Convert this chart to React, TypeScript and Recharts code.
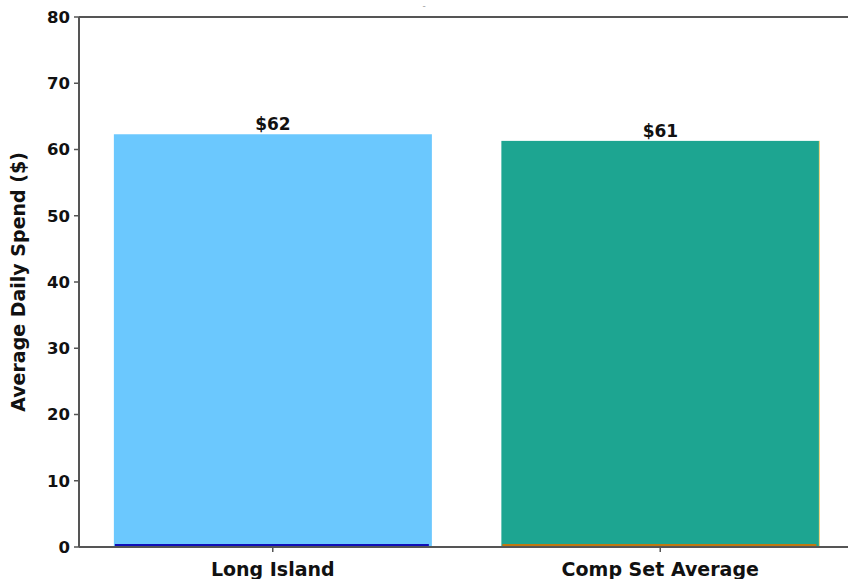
import { Bar, BarChart, LabelList, ReferenceLine, XAxis, YAxis } from "recharts";

const categories = ["Long Island", "Comp Set Average"];
const spend = [62.3, 61.3];
const valueLabels = ["$62", "$61"];
const yTicks = [0, 10, 20, 30, 40, 50, 60, 70, 80];

const barColors = ["#6BC8FE", "#1DA591"];
const edgeColors = ["#1010B8", "#C07812"];
const sideColors = ["none", "#F7D27A"];

const font = "'DejaVu Sans', sans-serif";
const spine = "#555";

const data = categories.map((name, i) => ({
  name,
  spend: spend[i],
  label: valueLabels[i],
  fill: barColors[i],
  edge: edgeColors[i],
  side: sideColors[i],
}));

function EdgedBar(props: any) {
  const { x, y, width, height, payload } = props;
  return (
    <g>
      <rect x={x} y={y} width={width} height={height} fill={payload.fill} />
      <line x1={x + 1} x2={x + width - 3} y1={y + height - 2} y2={y + height - 2} stroke={payload.edge} strokeWidth={2} />
      {payload.side !== "none" && (
        <line x1={x + width} x2={x + width} y1={y} y2={y + height} stroke={payload.side} strokeWidth={1} />
      )}
    </g>
  );
}

export default function App() {
  return (
    <div style={{ position: "absolute", left: 0, top: 0, width: 848, height: 579, overflow: "hidden", background: "#fff" }}>
      <div style={{ position: "absolute", left: 0, top: 0, width: 848, textAlign: "center", fontFamily: font, fontSize: 9, color: "#999", lineHeight: "12px" }}>-</div>
      <BarChart width={870} height={579} data={data} margin={{ top: 17, right: 16, bottom: 0, left: 0 }} barCategoryGap="9%">
        <ReferenceLine y={80} stroke={spine} strokeWidth={2} ifOverflow="visible" />
        <XAxis
          dataKey="name"
          interval={0}
          height={32}
          tickSize={5}
          tickMargin={11}
          axisLine={{ stroke: spine, strokeWidth: 2 }}
          tickLine={{ stroke: spine, strokeWidth: 1.5 }}
          tick={{ fill: "#111", fontSize: 19, fontWeight: 700, fontFamily: font }}
        />
        <YAxis
          domain={[0, 80]}
          ticks={yTicks}
          width={79}
          tickSize={5}
          tickMargin={4}
          axisLine={{ stroke: spine, strokeWidth: 2 }}
          tickLine={{ stroke: spine, strokeWidth: 1.5 }}
          tick={{ fill: "#111", fontSize: 16.5, fontWeight: 700, fontFamily: font }}
          label={{
            value: "Average Daily Spend ($)",
            angle: -90,
            position: "insideLeft",
            offset: 18,
            textAnchor: "middle",
            style: { textAnchor: "middle", fill: "#111", fontSize: 19, fontWeight: 700, fontFamily: font },
          }}
        />
        <Bar dataKey="spend" isAnimationActive={false} shape={EdgedBar}>
          <LabelList dataKey="label" position="top" offset={4} style={{ fill: "#111", fontSize: 17, fontWeight: 700, fontFamily: font }} />
        </Bar>
      </BarChart>
    </div>
  );
}
